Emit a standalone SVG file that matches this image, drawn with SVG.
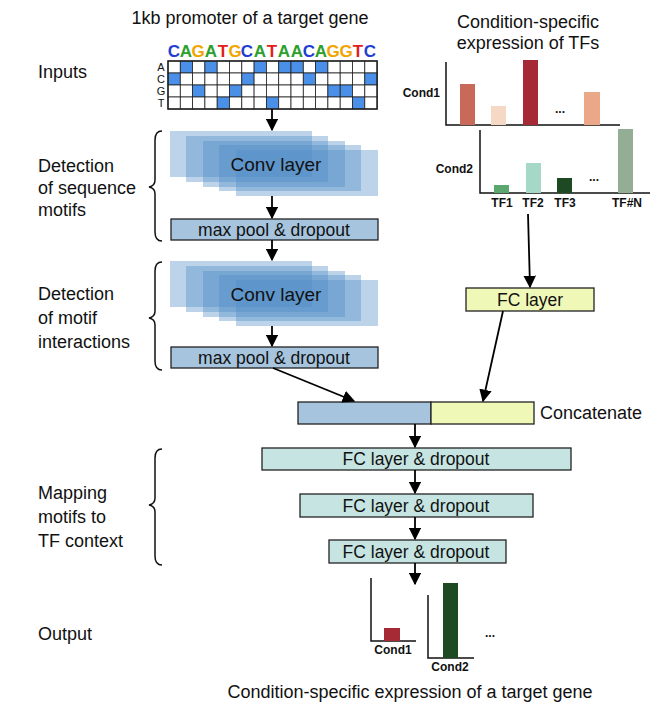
<svg xmlns="http://www.w3.org/2000/svg" width="661" height="708" viewBox="0 0 661 708">
<defs>
<marker id="ah" viewBox="0 0 10 10" refX="9" refY="5" markerWidth="7" markerHeight="7" orient="auto"><path d="M0,0 L10,5 L0,10 z" fill="#000"/></marker>
<g id="stack" fill="#4f8cc4" fill-opacity="0.38">
<rect x="170" y="131" width="142" height="46"/>
<rect x="186" y="136" width="142" height="46"/>
<rect x="203" y="141" width="142" height="46"/>
<rect x="219" y="145" width="142" height="46"/>
<rect x="236" y="150" width="142" height="46"/>
</g>
</defs>
<style>
text{font-family:"Liberation Sans",Arial,sans-serif;fill:#111}
.lab{font-size:18px}
.box{font-size:17.5px}
.cv{font-size:19px}
.b{font-weight:bold;font-size:12px}
.mp{fill:#a6c4dd;stroke:#222;stroke-width:1.3}
.fc{fill:#c6e5e2;stroke:#222;stroke-width:1.3}
.yl{fill:#f0f8b8;stroke:#222;stroke-width:1.3}
.ax{fill:none;stroke:#111;stroke-width:1.5}
.br{fill:none;stroke:#111;stroke-width:1.5}
.con line{stroke:#000;stroke-width:1.8;marker-end:url(#ah)}
.cell{fill:#fff;stroke:#222;stroke-width:0.8}
.on{fill:#4a90e8;stroke:#222;stroke-width:0.8}
</style>
<rect width="661" height="708" fill="#fff"/>
<text class="lab" x="250" y="24" text-anchor="middle">1kb promoter of a target gene</text>
<text class="lab" x="528" y="28" text-anchor="middle">Condition-specific</text>
<text class="lab" x="528" y="49" text-anchor="middle">expression of TFs</text>
<text class="lab" x="38" y="78">Inputs</text>
<text class="lab" x="38" y="172">Detection</text>
<text class="lab" x="38" y="194">of sequence</text>
<text class="lab" x="38" y="216">motifs</text>
<text class="lab" x="38" y="300">Detection</text>
<text class="lab" x="38" y="324">of motif</text>
<text class="lab" x="38" y="348">interactions</text>
<text class="lab" x="38" y="499">Mapping</text>
<text class="lab" x="38" y="523">motifs to</text>
<text class="lab" x="38" y="547">TF context</text>
<text class="lab" x="38" y="640">Output</text>
<text class="lab" x="410" y="698" text-anchor="middle">Condition-specific expression of a target gene</text>
<g id="braces">
<path class="br" d="M162,131 Q155,131 155,140 L155,180 Q155,186 149,187 Q155,188 155,194 L155,232 Q155,241 162,241"/>
<path class="br" d="M162,262 Q155,262 155,271 L155,311 Q155,317 149,318 Q155,319 155,325 L155,361 Q155,370 162,370"/>
<path class="br" d="M162,449 Q155,449 155,458 L155,498 Q155,504 149,505 Q155,506 155,512 L155,556 Q155,565 162,565"/>
</g>
<g id="sequence">
<g font-size="17" font-weight="bold">
<text x="174" y="57" text-anchor="middle" style="fill:#1f3fd0">C</text><text x="186" y="57" text-anchor="middle" style="fill:#2ca02c">A</text><text x="198" y="57" text-anchor="middle" style="fill:#f0a500">G</text><text x="211" y="57" text-anchor="middle" style="fill:#2ca02c">A</text><text x="223" y="57" text-anchor="middle" style="fill:#e02020">T</text><text x="235" y="57" text-anchor="middle" style="fill:#f0a500">G</text><text x="247" y="57" text-anchor="middle" style="fill:#1f3fd0">C</text><text x="260" y="57" text-anchor="middle" style="fill:#2ca02c">A</text><text x="272" y="57" text-anchor="middle" style="fill:#e02020">T</text><text x="284" y="57" text-anchor="middle" style="fill:#2ca02c">A</text><text x="297" y="57" text-anchor="middle" style="fill:#2ca02c">A</text><text x="309" y="57" text-anchor="middle" style="fill:#1f3fd0">C</text><text x="321" y="57" text-anchor="middle" style="fill:#2ca02c">A</text><text x="333" y="57" text-anchor="middle" style="fill:#f0a500">G</text><text x="346" y="57" text-anchor="middle" style="fill:#f0a500">G</text><text x="358" y="57" text-anchor="middle" style="fill:#e02020">T</text><text x="370" y="57" text-anchor="middle" style="fill:#1f3fd0">C</text>
</g>
<g font-size="11"><text x="161" y="71" text-anchor="middle">A</text><text x="161" y="83" text-anchor="middle">C</text><text x="161" y="95" text-anchor="middle">G</text><text x="161" y="107" text-anchor="middle">T</text></g>
<g>
<rect class="cell" x="168" y="61" width="12.3" height="12"/><rect class="on" x="180.3" y="61" width="12.3" height="12"/><rect class="cell" x="192.6" y="61" width="12.3" height="12"/><rect class="on" x="204.9" y="61" width="12.3" height="12"/><rect class="cell" x="217.2" y="61" width="12.3" height="12"/><rect class="cell" x="229.5" y="61" width="12.3" height="12"/><rect class="cell" x="241.8" y="61" width="12.3" height="12"/><rect class="on" x="254.1" y="61" width="12.3" height="12"/><rect class="cell" x="266.4" y="61" width="12.3" height="12"/><rect class="on" x="278.7" y="61" width="12.3" height="12"/><rect class="on" x="291" y="61" width="12.3" height="12"/><rect class="cell" x="303.3" y="61" width="12.3" height="12"/><rect class="on" x="315.6" y="61" width="12.3" height="12"/><rect class="cell" x="327.9" y="61" width="12.3" height="12"/><rect class="cell" x="340.2" y="61" width="12.3" height="12"/><rect class="cell" x="352.5" y="61" width="12.3" height="12"/><rect class="cell" x="364.8" y="61" width="12.3" height="12"/>
<rect class="on" x="168" y="73" width="12.3" height="12"/><rect class="cell" x="180.3" y="73" width="12.3" height="12"/><rect class="cell" x="192.6" y="73" width="12.3" height="12"/><rect class="cell" x="204.9" y="73" width="12.3" height="12"/><rect class="cell" x="217.2" y="73" width="12.3" height="12"/><rect class="cell" x="229.5" y="73" width="12.3" height="12"/><rect class="on" x="241.8" y="73" width="12.3" height="12"/><rect class="cell" x="254.1" y="73" width="12.3" height="12"/><rect class="cell" x="266.4" y="73" width="12.3" height="12"/><rect class="cell" x="278.7" y="73" width="12.3" height="12"/><rect class="cell" x="291" y="73" width="12.3" height="12"/><rect class="on" x="303.3" y="73" width="12.3" height="12"/><rect class="cell" x="315.6" y="73" width="12.3" height="12"/><rect class="cell" x="327.9" y="73" width="12.3" height="12"/><rect class="cell" x="340.2" y="73" width="12.3" height="12"/><rect class="cell" x="352.5" y="73" width="12.3" height="12"/><rect class="on" x="364.8" y="73" width="12.3" height="12"/>
<rect class="cell" x="168" y="85" width="12.3" height="12"/><rect class="cell" x="180.3" y="85" width="12.3" height="12"/><rect class="on" x="192.6" y="85" width="12.3" height="12"/><rect class="cell" x="204.9" y="85" width="12.3" height="12"/><rect class="cell" x="217.2" y="85" width="12.3" height="12"/><rect class="on" x="229.5" y="85" width="12.3" height="12"/><rect class="cell" x="241.8" y="85" width="12.3" height="12"/><rect class="cell" x="254.1" y="85" width="12.3" height="12"/><rect class="cell" x="266.4" y="85" width="12.3" height="12"/><rect class="cell" x="278.7" y="85" width="12.3" height="12"/><rect class="cell" x="291" y="85" width="12.3" height="12"/><rect class="cell" x="303.3" y="85" width="12.3" height="12"/><rect class="cell" x="315.6" y="85" width="12.3" height="12"/><rect class="on" x="327.9" y="85" width="12.3" height="12"/><rect class="on" x="340.2" y="85" width="12.3" height="12"/><rect class="cell" x="352.5" y="85" width="12.3" height="12"/><rect class="cell" x="364.8" y="85" width="12.3" height="12"/>
<rect class="cell" x="168" y="97" width="12.3" height="12"/><rect class="cell" x="180.3" y="97" width="12.3" height="12"/><rect class="cell" x="192.6" y="97" width="12.3" height="12"/><rect class="cell" x="204.9" y="97" width="12.3" height="12"/><rect class="on" x="217.2" y="97" width="12.3" height="12"/><rect class="cell" x="229.5" y="97" width="12.3" height="12"/><rect class="cell" x="241.8" y="97" width="12.3" height="12"/><rect class="cell" x="254.1" y="97" width="12.3" height="12"/><rect class="on" x="266.4" y="97" width="12.3" height="12"/><rect class="cell" x="278.7" y="97" width="12.3" height="12"/><rect class="cell" x="291" y="97" width="12.3" height="12"/><rect class="cell" x="303.3" y="97" width="12.3" height="12"/><rect class="cell" x="315.6" y="97" width="12.3" height="12"/><rect class="cell" x="327.9" y="97" width="12.3" height="12"/><rect class="cell" x="340.2" y="97" width="12.3" height="12"/><rect class="on" x="352.5" y="97" width="12.3" height="12"/><rect class="cell" x="364.8" y="97" width="12.3" height="12"/>
</g>
<rect x="168" y="61" width="209.1" height="48" fill="none" stroke="#222" stroke-width="1.5"/>
</g>
<g id="conv1"><use href="#stack"/><text class="cv" x="276" y="171" text-anchor="middle">Conv layer</text></g>
<g id="pool1"><rect class="mp" x="171" y="219" width="207" height="21"/><text class="box" x="274" y="236" text-anchor="middle">max pool &amp; dropout</text></g>
<g id="conv2"><use href="#stack" transform="translate(0,130)"/><text class="cv" x="276" y="301" text-anchor="middle">Conv layer</text></g>
<g id="pool2"><rect class="mp" x="171" y="347" width="207" height="21"/><text class="box" x="274" y="364" text-anchor="middle">max pool &amp; dropout</text></g>
<g id="tfexpr">
<path class="ax" d="M446,62 L446,125 L620,125"/>
<rect x="460" y="84" width="15" height="41" fill="#c8695a"/>
<rect x="491" y="106" width="15" height="19" fill="#f5d9c5"/>
<rect x="523" y="60" width="15" height="65" fill="#a52a35"/>
<text class="b" x="560" y="113" text-anchor="middle">...</text>
<rect x="584" y="92" width="16" height="33" fill="#eba888"/>
<text class="b" x="440" y="97" text-anchor="end">Cond1</text>
<path class="ax" d="M480,130 L480,193 L650,193"/>
<rect x="494" y="185" width="15" height="8" fill="#5aa86e"/>
<rect x="526" y="163" width="15" height="30" fill="#a6d8c8"/>
<rect x="557" y="178" width="15" height="15" fill="#1e4a23"/>
<text class="b" x="594" y="181" text-anchor="middle">...</text>
<rect x="618" y="129" width="15" height="64" fill="#93ae95"/>
<text class="b" x="473" y="173" text-anchor="end">Cond2</text>
<text class="b" x="502" y="207" text-anchor="middle">TF1</text>
<text class="b" x="533" y="207" text-anchor="middle">TF2</text>
<text class="b" x="565" y="207" text-anchor="middle">TF3</text>
<text class="b" x="627" y="207" text-anchor="middle">TF#N</text>
</g>
<g id="fcright"><rect class="yl" x="466" y="288" width="128" height="23"/><text class="box" x="530" y="306" text-anchor="middle">FC layer</text></g>
<g id="concat"><rect class="mp" x="298" y="402" width="133" height="22"/><rect class="yl" x="431" y="402" width="103" height="22"/><text class="lab" x="540" y="419">Concatenate</text></g>
<g id="fc1"><rect class="fc" x="262" y="448" width="309" height="22"/><text class="box" x="416" y="465" text-anchor="middle">FC layer &amp; dropout</text></g>
<g id="fc2"><rect class="fc" x="300" y="494" width="233" height="23"/><text class="box" x="416" y="512" text-anchor="middle">FC layer &amp; dropout</text></g>
<g id="fc3"><rect class="fc" x="329" y="540" width="177" height="23"/><text class="box" x="416" y="558" text-anchor="middle">FC layer &amp; dropout</text></g>
<g id="output">
<path class="ax" d="M371,578 L371,641 L416,641"/>
<rect x="384" y="628" width="16" height="13" fill="#a52a35"/>
<text class="b" x="393" y="654" text-anchor="middle">Cond1</text>
<path class="ax" d="M428,595 L428,658 L474,658"/>
<rect x="443" y="583" width="15" height="75" fill="#1e4a23"/>
<text class="b" x="450" y="671" text-anchor="middle">Cond2</text>
<text class="b" x="490" y="637" text-anchor="middle">...</text>
</g>
<g id="connectors" class="con">
<line x1="272" y1="109" x2="272" y2="130"/>
<line x1="272" y1="196" x2="272" y2="218"/>
<line x1="272" y1="240" x2="272" y2="260"/>
<line x1="272" y1="326" x2="272" y2="346"/>
<line x1="273" y1="368" x2="354" y2="401"/>
<line x1="528" y1="214" x2="530" y2="287"/>
<line x1="503" y1="311" x2="483" y2="401"/>
<line x1="415" y1="424" x2="415" y2="447"/>
<line x1="415" y1="470" x2="415" y2="493"/>
<line x1="415" y1="517" x2="415" y2="539"/>
<line x1="415" y1="563" x2="415" y2="584"/>
</g>
</svg>
